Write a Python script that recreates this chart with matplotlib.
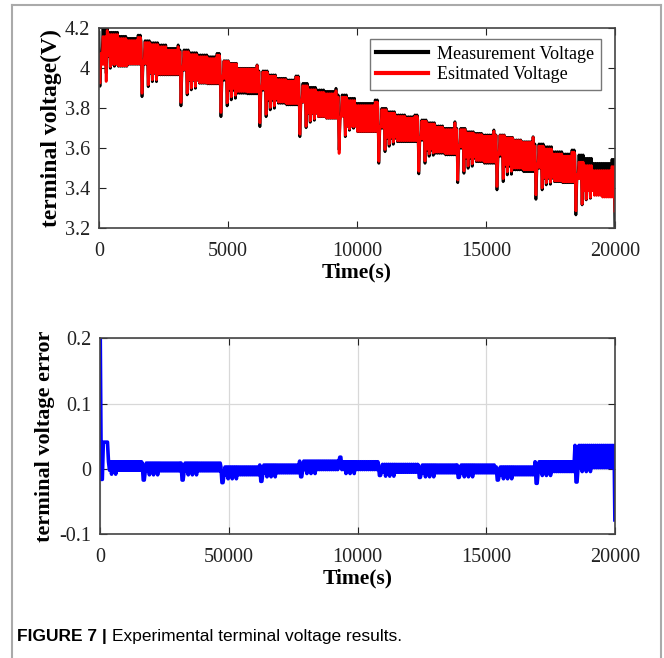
import numpy as np
import matplotlib
matplotlib.use('Agg')
import matplotlib.pyplot as plt
from matplotlib.lines import Line2D

# start time of every pulse cycle (s), read from the deep dips
cycle_start = [0, 1630, 3140, 4690, 6200, 7750, 9270, 10810, 12360, 13870, 15390, 16900, 18450]
t_end = 20000

# measured voltage: rest level (upper edge) per quarter of each cycle
top_v = [[4.20, 4.18, 4.16, 4.15], [4.138, 4.128, 4.117, 4.10], [4.092, 4.078, 4.067, 4.058],
         [4.038, 4.025, 4.00, 4.00], [3.987, 3.967, 3.95, 3.942], [3.925, 3.905, 3.892, 3.885],
         [3.867, 3.85, 3.825, 3.825], [3.80, 3.783, 3.767, 3.758], [3.742, 3.728, 3.712, 3.70],
         [3.70, 3.683, 3.675, 3.667], [3.667, 3.655, 3.642, 3.633], [3.622, 3.608, 3.583, 3.572],
         [3.567, 3.55, 3.525, 3.525]]
# short rise of the rest level just before the next cycle
top_end = [4.166, 4.117, 4.075, 4.017, 3.962, 3.90, 3.842, 3.767, 3.733, 3.692, 3.658, 3.592, 3.545]
# measured voltage under load (lower edge) per quarter
low_v = [[4.06, 4.02, 4.01, 4.02], [4.02, 3.975, 3.967, 3.967], [3.99, 3.94, 3.925, 3.922],
         [3.94, 3.89, 3.875, 3.872], [3.89, 3.84, 3.825, 3.817], [3.83, 3.775, 3.758, 3.75],
         [3.76, 3.71, 3.683, 3.683], [3.70, 3.65, 3.633, 3.633], [3.64, 3.59, 3.575, 3.567],
         [3.60, 3.55, 3.533, 3.525], [3.56, 3.51, 3.492, 3.483], [3.50, 3.45, 3.433, 3.428],
         [3.45, 3.39, 3.367, 3.358]]
# deep dip at the start of each cycle and the three smaller dips after it
dip_v = [3.91, 3.858, 3.812, 3.758, 3.708, 3.658, 3.592, 3.525, 3.472, 3.428, 3.392, 3.345, 3.267]
sub_v = [[3.975, 4.00, 4.01], [3.908, 3.933, 3.933], [3.867, 3.892, 3.90], [3.812, 3.842, 3.85],
         [3.758, 3.792, 3.80], [3.703, 3.73, 3.74], [3.658, 3.69, 3.70], [3.583, 3.61, 3.62],
         [3.525, 3.56, 3.565], [3.475, 3.50, 3.51], [3.433, 3.467, 3.47], [3.392, 3.417, 3.42],
         [3.317, 3.342, 3.35]]

# error (measured - estimated) per cycle: at rest, under load, at the deep dip
err_rest = [0.011, 0.009, 0.009, 0.003, 0.006, 0.012, 0.011, 0.007, 0.006, 0.006, 0.003, 0.011, 0.036]
err_load = [-0.002, -0.003, -0.003, -0.009, -0.006, -0.001, -0.001, -0.005, -0.006, -0.006, -0.009, -0.004, 0.002]
err_dip = [-0.016, -0.017, -0.017, -0.021, -0.019, -0.012, 0.018, -0.01, -0.013, -0.013, -0.017, -0.022, -0.02]
err_sub = -0.006
err_first = 0.2
err_head = 0.041
v_first = 4.18
v_last = 3.208
err_last = -0.078

# build the sampled traces (40 s samples, rest and load alternating)
step = 40
sub_k = [7, 11, 15]
t_all, v_all, e_all = [], [], []
bounds = cycle_start + [t_end]
for c in range(len(cycle_start)):
    s, e = bounds[c], bounds[c + 1]
    k = 0
    t = s
    while t < e:
        q = min(int(4 * (t - s) / (e - s - 150)), 3)
        if k == 1:
            v, er = dip_v[c], err_dip[c]
        elif k == 2:
            v, er = low_v[c][0], err_dip[c]
        elif k in sub_k:
            v, er = sub_v[c][sub_k.index(k)], err_load[c] + err_sub
        elif k % 2 == 1:
            v, er = low_v[c][q], err_load[c]
        elif t > e - 150:
            v, er = top_end[c], err_rest[c]
        else:
            v, er = top_v[c][q], err_rest[c]
        if c == 0 and k == 0:
            v, er = v_first, err_first
        elif c == 0 and t < 300 and k > 2:
            er = err_head
        t_all.append(t)
        v_all.append(v)
        e_all.append(er)
        k += 1
        t += step
t_all.append(t_end)
v_all.append(v_last)
e_all.append(err_last)

t_all = np.array(t_all)
meas = np.array(v_all)
err = np.array(e_all)
est = meas - err

plt.rcParams['font.family'] = ['Liberation Serif', 'DejaVu Serif']

fig = plt.figure(figsize=(6.64, 6.58), dpi=100)

ax1 = fig.add_axes([0.149, 0.653, 0.777, 0.304])
ax1.plot(t_all, meas, color='black', lw=2.0, label='Measurement Voltage')
ax1.plot(t_all, est, color='red', lw=1.9, label='Esitmated Voltage')
ax1.set_xlim(0, 20000)
ax1.set_ylim(3.2, 4.2)
ax1.set_xticks([0, 5000, 10000, 15000, 20000])
ax1.set_yticks([3.2, 3.4, 3.6, 3.8, 4.0, 4.2])
ax1.set_yticklabels(['3.2', '3.4', '3.6', '3.8', '4', '4.2'])
ax1.set_xlabel('Time(s)', fontsize=15.5, fontweight='bold', labelpad=1)
ax1.set_ylabel('terminal voltage(V)', fontsize=17, fontweight='bold', labelpad=2)
leg = ax1.legend(loc='upper right', fontsize=13, handlelength=2.9, frameon=True,
                 fancybox=False, borderpad=0.35, labelspacing=0.2, handletextpad=0.5,
                 bbox_to_anchor=(0.99, 0.99))
leg.get_frame().set_edgecolor('#555555')
leg.get_frame().set_linewidth(1.0)
for h in leg.get_lines():
    h.set_linewidth(3)

ax2 = fig.add_axes([0.151, 0.188, 0.775, 0.298])
ax2.plot(t_all, err, color='blue', lw=2.6)
ax2.set_xlim(0, 20000)
ax2.set_ylim(-0.1, 0.2)
ax2.set_xticks([0, 5000, 10000, 15000, 20000])
ax2.set_xticklabels(['0', '50000', '10000', '15000', '20000'])
ax2.set_yticks([-0.1, 0, 0.1, 0.2])
ax2.set_yticklabels(['-0.1', '0', '0.1', '0.2'])
ax2.grid(True, color='#d8d8d8', lw=0.9)
ax2.set_xlabel('Time(s)', fontsize=15.5, fontweight='bold', labelpad=1)
ax2.set_ylabel('terminal voltage error', fontsize=16, fontweight='bold', labelpad=3)

for ax in (ax1, ax2):
    ax.tick_params(direction='in', top=True, right=True, length=5, labelsize=14.5,
                   colors='#222222', labelcolor='#222222')
    ax.tick_params(axis='x', pad=10)
    ax.tick_params(axis='y', pad=6.5)
    for sp in ax.spines.values():
        sp.set_color('#444444')
        sp.set_linewidth(1.2)

# page frame around the figure panel
for xs, ys in (([0.018, 0.018], [0.0, 0.992]), ([0.018, 0.995], [0.992, 0.992]),
               ([0.995, 0.995], [0.0, 0.992])):
    fig.add_artist(Line2D(xs, ys, transform=fig.transFigure, color='#aaaaaa', lw=1.5))

cap_font = ['Liberation Sans', 'DejaVu Sans']
bold_part = fig.text(0.026, 0.033, 'FIGURE 7 | ', fontsize=12.5, fontweight='bold',
                     family=cap_font, va='center')
fig.canvas.draw()
bb = bold_part.get_window_extent()
fig.text(bb.x1 / fig.bbox.width, 0.033, 'Experimental terminal voltage results.',
         fontsize=12.5, family=cap_font, va='center')

fig.savefig('out.png', dpi=100)
